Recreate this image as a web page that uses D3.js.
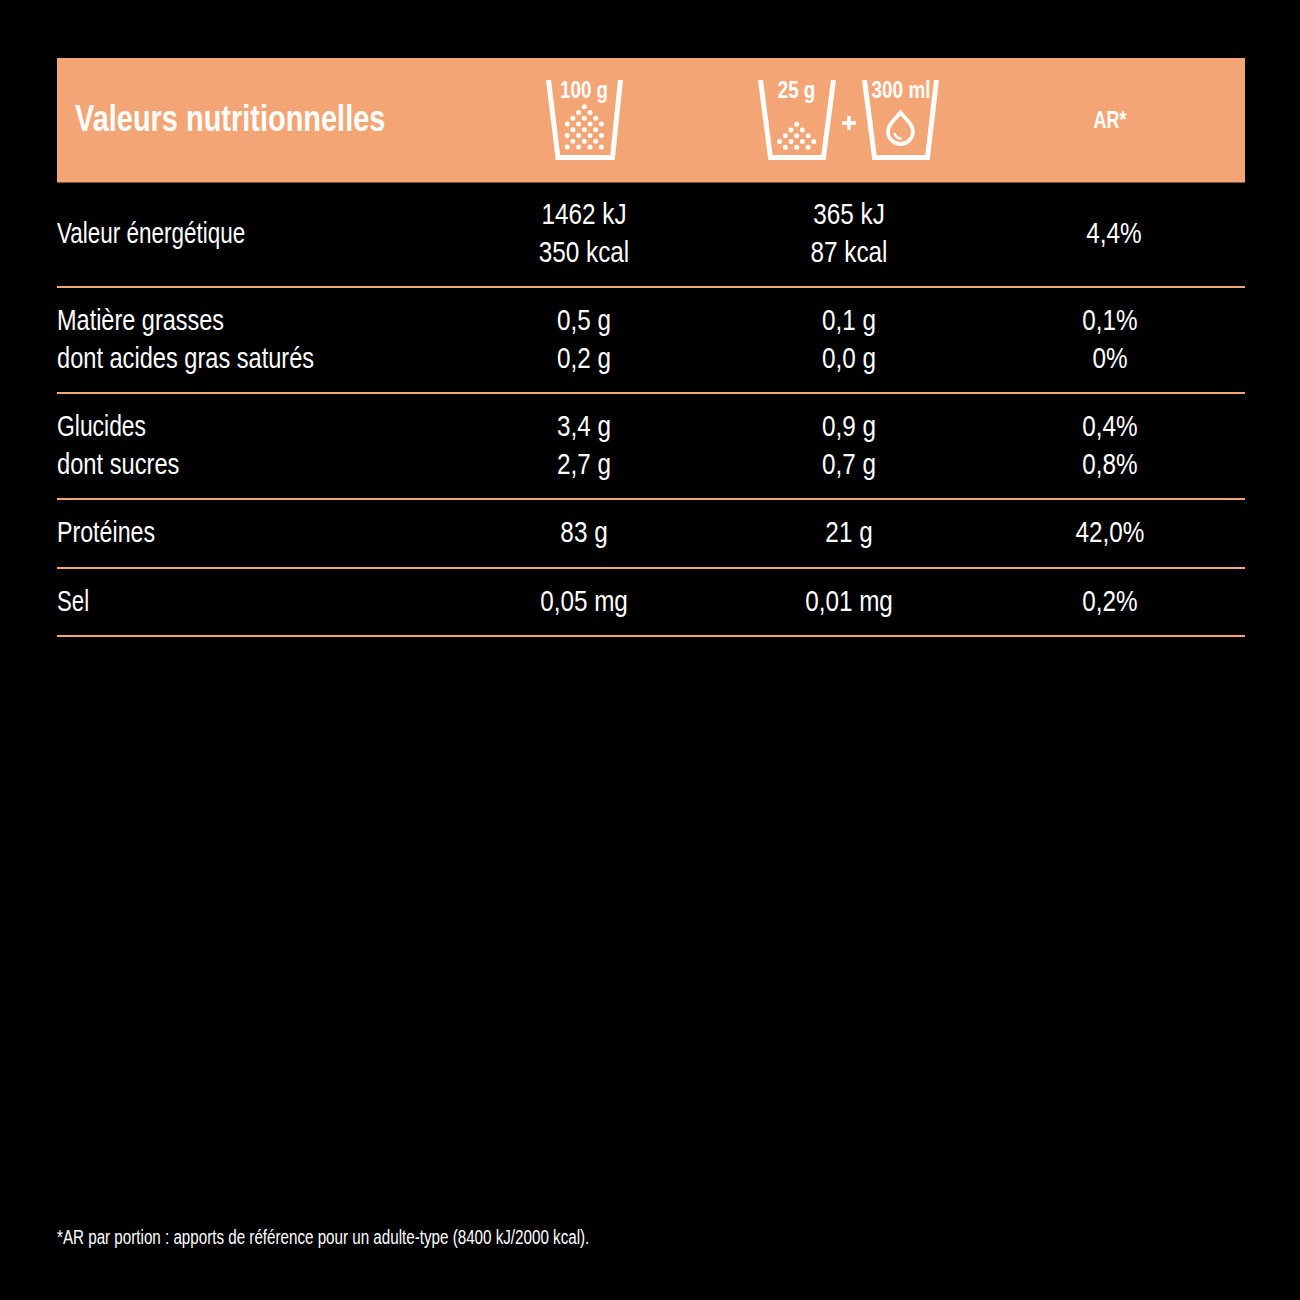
<!DOCTYPE html>
<html>
<head>
<meta charset="utf-8">
<script src="https://cdn.jsdelivr.net/npm/d3@7"></script>
<style>
  html, body { margin: 0; padding: 0; background: #000; }
  text { font-family: "Liberation Sans", sans-serif; fill: #fff; }
</style>
</head>
<body>
<svg id="chart" width="1300" height="1300"></svg>
<script>
const title = "Valeurs nutritionnelles";
const arHeader = "AR*";
const footnote = "*AR par portion : apports de référence pour un adulte-type (8400 kJ/2000 kcal).";
const columns = ["label", "per100", "perPortion", "ar"];

const rowLabels = [["Valeur énergétique"], ["Matière grasses", "dont acides gras saturés"], ["Glucides", "dont sucres"], ["Protéines"], ["Sel"]];
const per100 = [["1462 kJ", "350 kcal"], ["0,5 g", "0,2 g"], ["3,4 g", "2,7 g"], ["83 g"], ["0,05 mg"]];
const perPortion = [["365 kJ", "87 kcal"], ["0,1 g", "0,0 g"], ["0,9 g", "0,7 g"], ["21 g"], ["0,01 mg"]];
const arValues = [["4,4%"], ["0,1%", "0%"], ["0,4%", "0,8%"], ["42,0%"], ["0,2%"]];

// number of grains per row in the two cups, top to bottom
const grains100 = [1, 2, 3, 4, 3, 4, 3, 4];
const grains25 = [1, 2, 3, 4, 3];

const orange = "#f4a575";
const svg = d3.select("#chart");

svg.append("rect").attr("x", 57).attr("y", 58).attr("width", 1188).attr("height", 124.5).attr("fill", orange);

// row lines sit at these y values
const rowBottoms = [287, 393, 499, 568, 636];
const rowTops = [181].concat(rowBottoms.slice(0, -1));
const x = d3.scaleOrdinal().domain(columns).range([57, 584, 849, 1110]);

// horizontal squeeze of each row label, the widths differ a bit from the original face
const labelSqueeze = [[0.749], [0.783, 0.787], [0.763, 0.79], [0.774], [0.74]];

function addText(g, str, px, py, size, anchor, weight, sx) {
    // no condensed face installed, so squeeze the regular one horizontally
    return g.append("text")
        .attr("transform", `translate(${px},${py}) scale(${sx},1)`)
        .attr("font-size", size)
        .attr("font-weight", weight || "normal")
        .attr("text-anchor", anchor || "start")
        .text(str);
}

const body = svg.append("g");
rowBottoms.forEach((bottom, i) => {
    const centre = i === 0 ? 234 : (rowTops[i] + bottom) / 2;
    const place = (lines, key, anchor, sx, dx) => {
        lines.forEach((line, j) => {
            const py = centre + 8.5 + (j - (lines.length - 1) / 2) * 38;
            const squeeze = Array.isArray(sx) ? sx[j] : sx;
            addText(body, line, x(key) + (dx || 0), py, 30, anchor, "normal", squeeze);
        });
    };
    place(rowLabels[i], "label", "start", labelSqueeze[i]);
    place(per100[i], "per100", "middle", 0.81);
    place(perPortion[i], "perPortion", "middle", 0.81);
    place(arValues[i], "ar", "middle", 0.81, i === 0 ? 4 : 0);
    body.append("line")
        .attr("x1", 57).attr("x2", 1245)
        .attr("y1", bottom).attr("y2", bottom)
        .attr("stroke", orange).attr("stroke-width", 2);
});

// header
const head = svg.append("g");
addText(head, title, 75, 131, 36, "start", "bold", 0.804);
addText(head, arHeader, 1110, 128, 23, "middle", "bold", 0.78);

function cup(xTopL, xBotL, xBotR, xTopR) {
    head.append("path")
        .attr("d", d3.line()([[xTopL, 80], [xBotL, 157.5], [xBotR, 157.5], [xTopR, 80]]))
        .attr("fill", "none").attr("stroke", "#fff").attr("stroke-width", 5);
}

function grains(counts, cx, top) {
    const dy = d3.scaleLinear().domain([0, 1]).range([top, top + 5.75]);
    counts.forEach((n, r) => {
        d3.range(n).forEach(k => {
            head.append("circle")
                .attr("cx", cx + (k - (n - 1) / 2) * 11.4)
                .attr("cy", dy(r))
                .attr("r", 2.5)
                .attr("fill", "#fff");
        });
    });
}

cup(548.5, 558, 612.5, 620.5);
addText(head, "100 g", 584, 98, 24, "middle", "bold", 0.785);
grains(grains100, 584.3, 106.7);

cup(760.5, 770.5, 823.5, 833.5);
addText(head, "25 g", 796.5, 98, 24, "middle", "bold", 0.785);
grains(grains25, 796.7, 124.3);

head.append("path").attr("d", "M842,123H856M849,116V130").attr("stroke", "#fff").attr("stroke-width", 3.5).attr("fill", "none");

cup(864.5, 874.5, 927.5, 936.5);
addText(head, "300 ml", 901, 98, 24, "middle", "bold", 0.79);
// water drop
head.append("path")
    .attr("d", "M900.5,112.5C905.5,119 913,124 913,131.5A12.5,12.5 0 0 1 888,131.5C888,124 895.5,119 900.5,112.5Z")
    .attr("fill", "none").attr("stroke", "#fff").attr("stroke-width", 3.8);
head.append("path")
    .attr("d", "M894.5,133A6.5,6.5 0 0 0 901.5,138.5")
    .attr("fill", "none").attr("stroke", "#fff").attr("stroke-width", 2.5);

addText(svg, footnote, 57, 1244, 20, "start", "normal", 0.759);
</script>
</body>
</html>
